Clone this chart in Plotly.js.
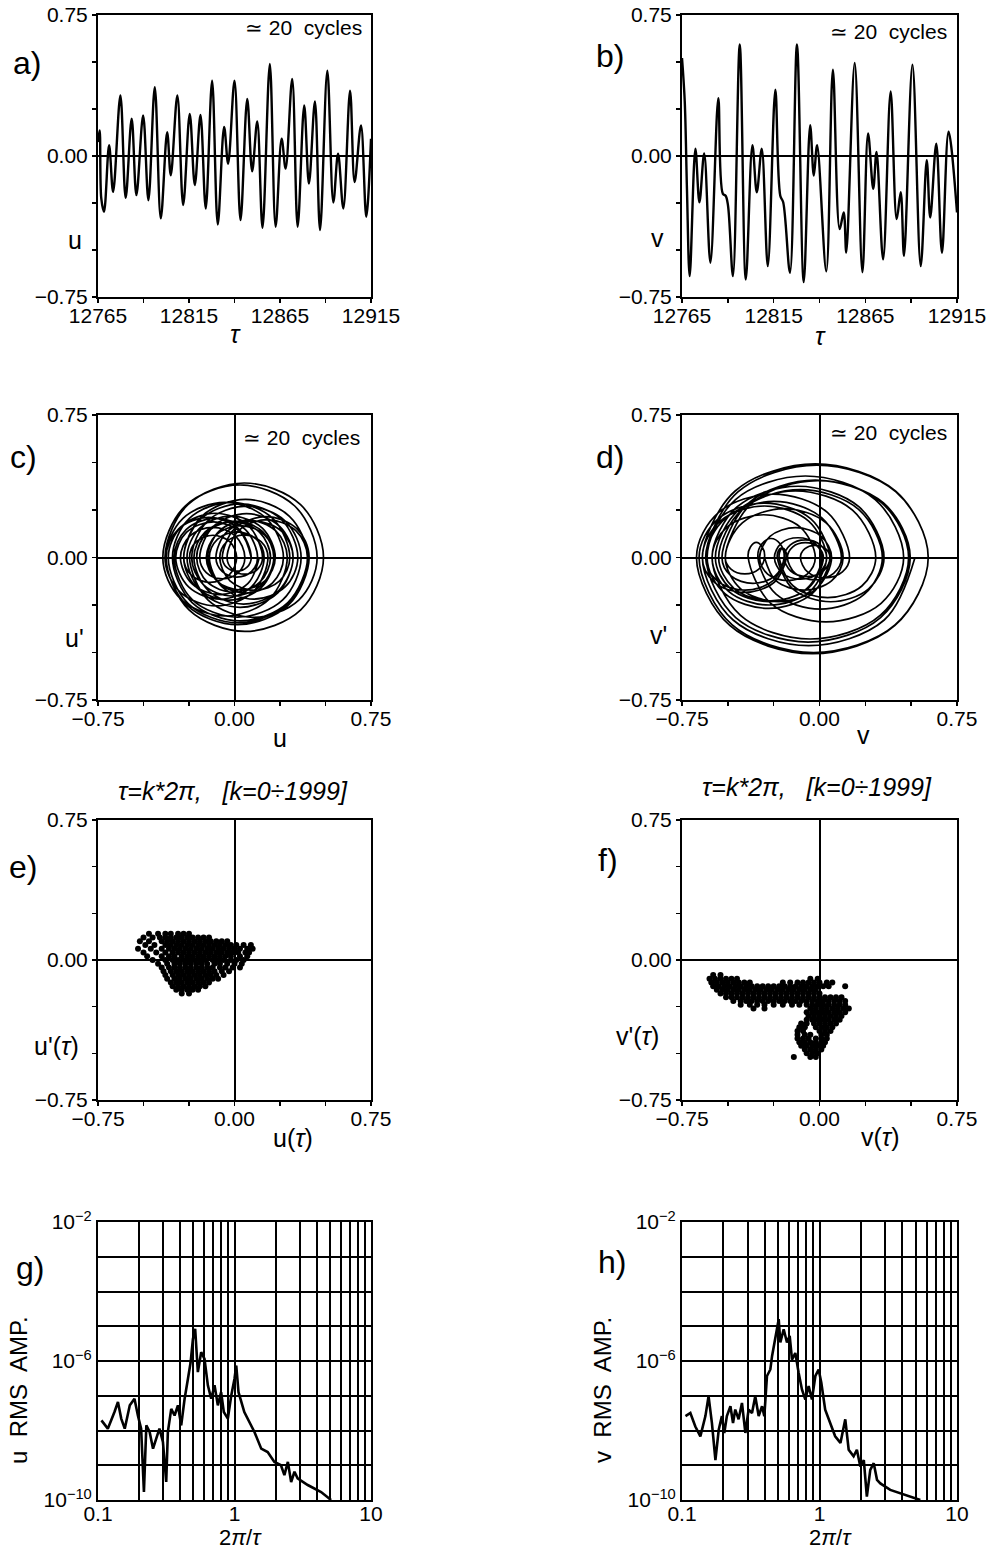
<!DOCTYPE html>
<html>
<head>
<meta charset="utf-8">
<script src="https://cdn.plot.ly/plotly-3.0.1.min.js"></script>
<style>html,body{margin:0;padding:0;background:#fff;}#chart{width:993px;height:1550px;}</style>
</head>
<body>
<div id="chart"></div>
<script>
// ---------- DATA ----------
// a) u(τ) time series: successive extremes
const tauA = [12765.0, 12765.9, 12766.8, 12768.3, 12771.1, 12773.3, 12777.3, 12780.2, 12783.5, 12786.1, 12789.8, 12792.7, 12796.2, 12799.5, 12803.0, 12805.0, 12808.6, 12811.8, 12815.4, 12818.2, 12821.3, 12824.2, 12827.7, 12830.8, 12834.3, 12836.5, 12840.0, 12843.3, 12847.0, 12849.7, 12852.5, 12855.4, 12859.4, 12862.6, 12865.9, 12868.1, 12871.7, 12874.7, 12878.3, 12880.9, 12884.2, 12887.0, 12891.0, 12894.3, 12896.9, 12899.8, 12903.5, 12906.0, 12909.5, 12912.4, 12915.0];
const uA = [0.074, 0.136, -0.226, -0.297, 0.057, -0.191, 0.322, -0.223, 0.198, -0.208, 0.216, -0.235, 0.366, -0.332, 0.127, -0.102, 0.322, -0.261, 0.224, -0.155, 0.219, -0.279, 0.401, -0.364, 0.154, -0.041, 0.401, -0.341, 0.304, -0.081, 0.184, -0.382, 0.489, -0.376, 0.092, -0.067, 0.410, -0.376, 0.269, -0.147, 0.290, -0.394, 0.454, -0.247, 0.012, -0.279, 0.348, -0.138, 0.163, -0.323, 0.092];

// b) v(τ) time series
const tauB = [12765.0, 12766.5, 12767.7, 12769.2, 12772.3, 12774.5, 12777.1, 12780.5, 12784.8, 12787.3, 12788.8, 12790.1, 12792.8, 12796.5, 12799.8, 12803.4, 12805.8, 12808.5, 12811.8, 12815.9, 12818.6, 12820.2, 12823.9, 12827.7, 12831.4, 12834.9, 12836.9, 12838.7, 12843.7, 12847.3, 12851.0, 12853.2, 12854.6, 12859.2, 12863.4, 12866.5, 12869.3, 12871.1, 12874.7, 12878.8, 12882.1, 12884.3, 12886.1, 12890.7, 12895.2, 12898.5, 12900.4, 12903.7, 12906.8, 12910.4, 12915.0];
const vB = [0.521, 0.289, -0.175, -0.639, 0.039, -0.246, 0.013, -0.568, 0.307, -0.202, -0.211, -0.264, -0.639, 0.593, -0.657, 0.057, -0.193, 0.039, -0.586, 0.352, -0.211, -0.246, -0.621, 0.593, -0.671, 0.164, -0.104, 0.057, -0.613, 0.459, -0.389, -0.300, -0.514, 0.495, -0.618, 0.120, -0.175, 0.021, -0.550, 0.343, -0.336, -0.193, -0.532, 0.486, -0.586, -0.023, -0.327, 0.066, -0.514, 0.129, -0.300];

// c) phase portrait (u, u') – points read around each loop
const uC = [
  0.136, 0.073, -0.08, -0.234, -0.297, -0.246, -0.12, 0.006, 0.057, 0.021, -0.067, -0.155,
  -0.191, -0.116, 0.066, 0.248, 0.322, 0.243, 0.05, -0.144, -0.223, -0.162, -0.013, 0.137,
  0.198, 0.139, -0.005, -0.149, -0.208, -0.147, 0.004, 0.155, 0.216, 0.150, -0.01, -0.170,
  -0.235, -0.148, 0.066, 0.279, 0.366, 0.265, 0.017, -0.231, -0.332, -0.266, -0.103, 0.060,
  0.127, 0.094, 0.013, -0.068, -0.102, -0.041, 0.11, 0.261, 0.322, 0.238, 0.031, -0.176,
  -0.261, -0.191, -0.019, 0.153, 0.224, 0.169, 0.035, -0.100, -0.155, -0.101, 0.032, 0.165,
  0.219, 0.147, -0.03, -0.207, -0.279, -0.180, 0.061, 0.302, 0.401, 0.290, 0.019, -0.253,
  -0.364, -0.289, -0.105, 0.079, 0.154, 0.126, 0.057, -0.012, -0.041, 0.023, 0.18, 0.337,
  0.401, 0.293, 0.03, -0.233, -0.341, -0.248, -0.019, 0.210, 0.304, 0.248, 0.112, -0.025,
  -0.081, -0.042, 0.052, 0.146, 0.184, 0.102, -0.099, -0.300, -0.382, -0.256, 0.054, 0.363,
  0.489, 0.364, 0.057, -0.250, -0.376, -0.308, -0.142, 0.024, 0.092, 0.069, 0.013, -0.044,
  -0.067, 0.002, 0.172, 0.341, 0.41, 0.296, 0.017, -0.262, -0.376, -0.283, -0.054, 0.175,
  0.269, 0.209, 0.061, -0.087, -0.147, -0.083, 0.072, 0.227, 0.29, 0.191, -0.052, -0.295,
  -0.394, -0.271, 0.03, 0.331, 0.454, 0.353, 0.104, -0.145, -0.247, -0.210, -0.118, -0.026,
  0.012, -0.030, -0.134, -0.237, -0.279, -0.188, 0.035, 0.257, 0.348, 0.278, 0.105, -0.068,
  -0.138, -0.094, 0.013, 0.120, 0.163, 0.093, -0.08, -0.252, -0.323, -0.263, -0.115, 0.032,
  0.092];
const duC = [
  0, -0.138, -0.195, -0.138, 0, 0.113, 0.159, 0.113, 0, -0.080, -0.112, -0.080,
  0, 0.164, 0.231, 0.164, 0, -0.174, -0.245, -0.174, 0, 0.134, 0.189, 0.134,
  0, -0.130, -0.183, -0.130, 0, 0.136, 0.191, 0.136, 0, -0.144, -0.203, -0.144,
  0, 0.192, 0.270, 0.192, 0, -0.223, -0.314, -0.223, 0, 0.147, 0.207, 0.147,
  0, -0.073, -0.103, -0.073, 0, 0.136, 0.191, 0.136, 0, -0.186, -0.262, -0.186,
  0, 0.155, 0.218, 0.155, 0, -0.121, -0.171, -0.121, 0, 0.119, 0.168, 0.119,
  0, -0.159, -0.224, -0.159, 0, 0.217, 0.306, 0.217, 0, -0.244, -0.344, -0.244,
  0, 0.165, 0.233, 0.165, 0, -0.062, -0.088, -0.062, 0, 0.141, 0.199, 0.141,
  0, -0.237, -0.334, -0.237, 0, 0.206, 0.29, 0.206, 0, -0.123, -0.173, -0.123,
  0, 0.084, 0.119, 0.084, 0, -0.181, -0.255, -0.181, 0, 0.278, 0.392, 0.278,
  0, -0.276, -0.389, -0.276, 0, 0.150, 0.211, 0.150, 0, -0.051, -0.072, -0.051,
  0, 0.153, 0.215, 0.153, 0, -0.251, -0.354, -0.251, 0, 0.206, 0.29, 0.206,
  0, -0.133, -0.187, -0.133, 0, 0.140, 0.197, 0.140, 0, -0.219, -0.308, -0.219,
  0, 0.271, 0.382, 0.271, 0, -0.224, -0.315, -0.224, 0, 0.083, 0.117, 0.083,
  0, -0.093, -0.131, -0.093, 0, 0.200, 0.282, 0.200, 0, -0.155, -0.219, -0.155,
  0, 0.096, 0.135, 0.096, 0, -0.155, -0.219, -0.155, 0, 0.133, 0.187, 0.133,
  0];

// d) phase portrait (v, v') – points read around each loop
const vD = [
  0.521, 0.353, -0.059, -0.471, -0.639, -0.541, -0.30, -0.059, 0.039, -0.003, -0.104, -0.205,
  -0.246, -0.209, -0.117, -0.025, 0.013, -0.071, -0.278, -0.484, -0.568, -0.441, -0.131, 0.180,
  0.307, 0.231, 0.044, -0.143, -0.22, -0.214, -0.20, -0.186, -0.18, -0.247, -0.41, -0.573,
  -0.639, -0.460, -0.023, 0.414, 0.593, 0.412, -0.032, -0.476, -0.657, -0.553, -0.30, -0.047,
  0.057, 0.021, -0.068, -0.157, -0.193, -0.159, -0.077, 0.005, 0.039, -0.052, -0.274, -0.496,
  -0.586, -0.450, -0.117, 0.216, 0.352, 0.268, 0.061, -0.146, -0.23, -0.224, -0.21, -0.196,
  -0.19, -0.253, -0.406, -0.559, -0.621, -0.445, -0.014, 0.417, 0.593, 0.410, -0.039, -0.488,
  -0.671, -0.550, -0.254, 0.043, 0.164, 0.125, 0.03, -0.065, -0.104, -0.081, -0.024, 0.034,
  0.057, -0.040, -0.278, -0.516, -0.613, -0.458, -0.077, 0.304, 0.459, 0.336, 0.035, -0.266,
  -0.389, -0.376, -0.345, -0.313, -0.30, -0.331, -0.407, -0.483, -0.514, -0.368, -0.01, 0.349,
  0.495, 0.333, -0.062, -0.457, -0.618, -0.511, -0.249, 0.013, 0.120, 0.077, -0.028, -0.132,
  -0.175, -0.147, -0.077, -0.007, 0.021, -0.062, -0.265, -0.467, -0.550, -0.421, -0.104, 0.213,
  0.343, 0.245, 0.004, -0.237, -0.336, -0.315, -0.265, -0.214, -0.193, -0.242, -0.363, -0.483,
  -0.532, -0.384, -0.023, 0.338, 0.486, 0.331, -0.05, -0.431, -0.586, -0.505, -0.305, -0.105,
  -0.023, -0.067, -0.175, -0.283, -0.327, -0.270, -0.131, 0.009, 0.066, -0.018, -0.224, -0.430,
  -0.514, -0.421, -0.193, 0.036, 0.129, 0.067, -0.086, -0.238,
  -0.300];
const dvD = [
  0, -0.329, -0.464, -0.329, 0, 0.192, 0.271, 0.192, 0, -0.081, -0.114, -0.081,
  0, 0.074, 0.104, 0.074, 0, -0.165, -0.232, -0.165, 0, 0.249, 0.35, 0.249,
  0, -0.150, -0.211, -0.150, 0, 0.036, 0.05, 0.036, 0, -0.131, -0.184, -0.131,
  0, 0.350, 0.493, 0.350, 0, -0.355, -0.5, -0.355, 0, 0.203, 0.286, 0.203,
  0, -0.071, -0.1, -0.071, 0, 0.066, 0.093, 0.066, 0, -0.178, -0.25, -0.178,
  0, 0.266, 0.375, 0.266, 0, -0.165, -0.233, -0.165, 0, 0.036, 0.05, 0.036,
  0, -0.122, -0.172, -0.122, 0, 0.345, 0.486, 0.345, 0, -0.359, -0.506, -0.359,
  0, 0.237, 0.334, 0.237, 0, -0.076, -0.107, -0.076, 0, 0.045, 0.064, 0.045,
  0, -0.190, -0.268, -0.190, 0, 0.305, 0.429, 0.305, 0, -0.241, -0.339, -0.241,
  0, 0.057, 0.08, 0.057, 0, -0.061, -0.086, -0.061, 0, 0.287, 0.404, 0.287,
  0, -0.316, -0.445, -0.316, 0, 0.209, 0.295, 0.209, 0, -0.084, -0.118, -0.084,
  0, 0.055, 0.078, 0.055, 0, -0.162, -0.228, -0.162, 0, 0.253, 0.357, 0.253,
  0, -0.193, -0.272, -0.193, 0, 0.071, 0.1, 0.071, 0, -0.097, -0.136, -0.097,
  0, 0.289, 0.407, 0.289, 0, -0.305, -0.429, -0.305, 0, 0.160, 0.225, 0.160,
  0, -0.087, -0.122, -0.087, 0, 0.111, 0.157, 0.111, 0, -0.165, -0.232, -0.165,
  0, 0.182, 0.257, 0.182, 0, -0.122, -0.172, -0.122,
  0];

// e) Poincaré section (u(τ), u'(τ)) – rows of points
const eLevels = [0.14, 0.12, 0.10, 0.08, 0.06, 0.04, 0.02, 0.00, -0.02, -0.04, -0.06, -0.08, -0.10, -0.12, -0.14, -0.16, -0.18];
const eRows = [
  [-0.47, -0.42, -0.38, -0.35, -0.31, -0.28, -0.25],
  [-0.50, -0.45, -0.41, -0.38, -0.35, -0.32, -0.29, -0.26, -0.23, -0.20, -0.17, -0.14],
  [-0.52, -0.47, -0.40, -0.37, -0.34, -0.31, -0.28, -0.25, -0.22, -0.19, -0.16, -0.13, -0.10, -0.07, -0.04],
  [-0.49, -0.44, -0.38, -0.35, -0.32, -0.29, -0.26, -0.23, -0.20, -0.17, -0.14, -0.11, -0.08, -0.05, -0.02, 0.01, 0.05, 0.09],
  [-0.53, -0.46, -0.40, -0.36, -0.33, -0.30, -0.27, -0.24, -0.21, -0.18, -0.15, -0.12, -0.09, -0.06, -0.03, 0.00, 0.03, 0.07, 0.10],
  [-0.50, -0.43, -0.38, -0.34, -0.31, -0.28, -0.25, -0.22, -0.19, -0.16, -0.13, -0.10, -0.07, -0.04, -0.01, 0.02, 0.06, 0.08],
  [-0.48, -0.40, -0.36, -0.33, -0.29, -0.26, -0.23, -0.20, -0.17, -0.14, -0.11, -0.08, -0.05, -0.02, 0.03, 0.07],
  [-0.45, -0.38, -0.34, -0.31, -0.28, -0.25, -0.22, -0.19, -0.16, -0.12, -0.09, -0.06, -0.02, 0.01, 0.05],
  [-0.42, -0.37, -0.33, -0.30, -0.27, -0.24, -0.21, -0.18, -0.15, -0.11, -0.08, -0.04, 0.00, 0.04],
  [-0.40, -0.36, -0.33, -0.30, -0.27, -0.24, -0.21, -0.18, -0.15, -0.12, -0.08, -0.05, -0.01, 0.03],
  [-0.39, -0.35, -0.32, -0.29, -0.26, -0.23, -0.20, -0.17, -0.14, -0.11, -0.07, -0.03],
  [-0.38, -0.34, -0.31, -0.28, -0.25, -0.22, -0.19, -0.16, -0.13, -0.10, -0.06],
  [-0.37, -0.33, -0.30, -0.27, -0.24, -0.21, -0.18, -0.15, -0.12, -0.09],
  [-0.35, -0.32, -0.29, -0.26, -0.23, -0.20, -0.17, -0.14],
  [-0.34, -0.31, -0.28, -0.25, -0.22, -0.19, -0.16],
  [-0.32, -0.29, -0.26, -0.23, -0.20],
  [-0.29, -0.25]
];

// f) Poincaré section (v(τ), v'(τ)) – rows of points
const fLevels = [-0.08, -0.10, -0.12, -0.14, -0.16, -0.18, -0.20, -0.22, -0.24, -0.26, -0.28, -0.30, -0.32, -0.34, -0.36, -0.38, -0.40, -0.42, -0.44, -0.46, -0.48, -0.50, -0.52];
const fRows = [
  [-0.58, -0.54],
  [-0.60, -0.57, -0.54, -0.51, -0.48, -0.45, -0.05, -0.01],
  [-0.59, -0.56, -0.53, -0.50, -0.47, -0.44, -0.41, -0.38, -0.20, -0.16, -0.12, -0.09, -0.06, -0.03, 0.00, 0.04, 0.07],
  [-0.58, -0.55, -0.52, -0.49, -0.46, -0.43, -0.40, -0.37, -0.34, -0.31, -0.28, -0.25, -0.22, -0.19, -0.16, -0.13, -0.10, -0.07, -0.04, -0.01, 0.02, 0.05, 0.14],
  [-0.56, -0.53, -0.50, -0.47, -0.44, -0.41, -0.38, -0.35, -0.32, -0.29, -0.26, -0.23, -0.20, -0.17, -0.14, -0.11, -0.08, -0.05, -0.02],
  [-0.54, -0.51, -0.48, -0.45, -0.42, -0.39, -0.36, -0.33, -0.30, -0.27, -0.24, -0.21, -0.18, -0.15, -0.12, -0.09, -0.06, -0.03, 0.00],
  [-0.51, -0.48, -0.45, -0.42, -0.39, -0.36, -0.33, -0.30, -0.27, -0.24, -0.21, -0.18, -0.15, -0.12, -0.09, -0.06, -0.03, 0.00, 0.03, 0.06, 0.09, 0.12],
  [-0.47, -0.43, -0.40, -0.37, -0.34, -0.31, -0.28, -0.25, -0.22, -0.19, -0.16, -0.13, -0.10, -0.07, -0.04, -0.01, 0.02, 0.05, 0.08, 0.11, 0.14],
  [-0.43, -0.38, -0.34, -0.30, -0.25, -0.20, -0.15, -0.11, -0.07, -0.04, -0.01, 0.02, 0.05, 0.08, 0.11, 0.14],
  [-0.36, -0.30, -0.05, -0.02, 0.01, 0.04, 0.07, 0.10, 0.13, 0.16],
  [-0.07, -0.04, -0.01, 0.02, 0.05, 0.08, 0.11, 0.14],
  [-0.06, -0.03, 0.00, 0.03, 0.06, 0.09, 0.12],
  [-0.07, -0.04, -0.01, 0.02, 0.05, 0.08, 0.11],
  [-0.10, -0.07, -0.03, 0.00, 0.03, 0.06, 0.09],
  [-0.11, -0.08, -0.02, 0.01, 0.04, 0.07],
  [-0.12, -0.09, 0.00, 0.03, 0.06],
  [-0.12, -0.08, -0.05, 0.01, 0.04],
  [-0.12, -0.09, -0.06, -0.02, 0.01, 0.04],
  [-0.11, -0.08, -0.05, -0.02, 0.01, 0.03],
  [-0.10, -0.07, -0.04, -0.01, 0.02],
  [-0.08, -0.05, -0.02, 0.01],
  [-0.07, -0.04, -0.01],
  [-0.14, -0.05, -0.02]
];

// g) u RMS amplitude spectrum
const gF = [0.106, 0.118, 0.132, 0.140, 0.148, 0.157, 0.171, 0.185, 0.196, 0.207, 0.217, 0.226, 0.239, 0.253, 0.267, 0.282, 0.299, 0.316, 0.325, 0.344, 0.364, 0.385, 0.407, 0.431, 0.456, 0.477, 0.496, 0.515, 0.539, 0.570, 0.603, 0.638, 0.675, 0.714, 0.755, 0.798, 0.835, 0.894, 0.946, 1.0, 1.03, 1.07, 1.18, 1.40, 1.57, 1.75, 1.96, 2.19, 2.32, 2.46, 2.60, 2.75, 2.90, 3.44, 4.31, 5.10];
const gA = [1.96e-8, 1.13e-8, 3.4e-8, 6.6e-8, 2.2e-8, 1.13e-8, 5.3e-8, 8.2e-8, 2.7e-8, 1.13e-8, 1.7e-10, 1.4e-8, 9.1e-9, 3.0e-9, 5.8e-9, 1.13e-8, 4.7e-9, 3.3e-10, 9.1e-9, 4.2e-8, 2.7e-8, 5.3e-8, 1.4e-8, 8.2e-8, 3.1e-7, 9.2e-7, 4.3e-6, 8.4e-6, 4.8e-7, 1.8e-6, 1.15e-6, 2.0e-7, 8.2e-8, 2.0e-7, 5.3e-8, 1.27e-7, 3.4e-8, 2.2e-8, 1.0e-7, 3.1e-7, 7.4e-7, 1.27e-7, 3.4e-8, 9.1e-9, 3.0e-9, 2.4e-9, 1.25e-9, 1.0e-9, 5.2e-10, 1.25e-9, 3.3e-10, 6.5e-10, 4.2e-10, 2.7e-10, 1.7e-10, 1.0e-10];

// h) v RMS amplitude spectrum
const hF = [0.106, 0.115, 0.125, 0.136, 0.148, 0.156, 0.165, 0.175, 0.185, 0.195, 0.203, 0.212, 0.225, 0.235, 0.244, 0.258, 0.273, 0.289, 0.305, 0.323, 0.341, 0.361, 0.382, 0.397, 0.415, 0.439, 0.452, 0.478, 0.505, 0.519, 0.549, 0.580, 0.607, 0.631, 0.667, 0.705, 0.746, 0.789, 0.834, 0.881, 0.933, 0.986, 1.03, 1.10, 1.20, 1.30, 1.42, 1.54, 1.63, 1.77, 1.87, 1.98, 2.10, 2.21, 2.34, 2.48, 2.62, 2.77, 3.27, 3.87, 4.58, 5.41];
const hA = [2.6e-8, 3.2e-8, 1.3e-8, 6.8e-9, 2.6e-8, 9.7e-8, 1.65e-8, 1.4e-9, 1.06e-8, 2.6e-8, 8.5e-9, 2.6e-8, 5.0e-8, 1.65e-8, 4.0e-8, 2.1e-8, 6.2e-8, 8.5e-9, 4.0e-8, 3.2e-8, 9.7e-8, 2.6e-8, 5.0e-8, 2.6e-8, 3.7e-7, 5.7e-7, 1.4e-6, 5.3e-6, 1.6e-5, 3.4e-6, 8.2e-6, 3.4e-6, 5.3e-6, 1.1e-6, 1.7e-6, 4.6e-7, 1.5e-7, 7.8e-8, 1.9e-7, 7.8e-8, 3.7e-7, 5.7e-7, 2.4e-7, 4.0e-8, 1.65e-8, 6.8e-9, 4.4e-9, 2.1e-8, 2.8e-9, 1.8e-9, 2.8e-9, 9.2e-10, 1.4e-9, 1.25e-10, 7.4e-10, 1.15e-9, 3.8e-10, 3.0e-10, 1.95e-10, 1.56e-10, 1.25e-10, 1.0e-10];

// tick labels
const symTicks = [-0.75, -0.5, -0.25, 0, 0.25, 0.5, 0.75];
const symText = ['−0.75', '', '', '0.00', '', '', '0.75'];
const tauTicks = [12765, 12790, 12815, 12840, 12865, 12890, 12915];
const tauText = ['12765', '', '12815', '', '12865', '', '12915'];
const freqTicks = [0.1, 0.2, 0.3, 0.4, 0.5, 0.6, 0.7, 0.8, 0.9, 1, 2, 3, 4, 5, 6, 7, 8, 9, 10];
const freqText = ['0.1', '', '', '', '', '', '', '', '', '1', '', '', '', '', '', '', '', '', '10'];
const ampTicks = [1e-10, 1e-9, 1e-8, 1e-7, 1e-6, 1e-5, 1e-4, 1e-3, 1e-2];
const ampText = ['10<sup>−10</sup>', '', '', '', '10<sup>−6</sup>', '', '', '', '10<sup>−2</sup>'];

// ---------- LAYOUT HELPERS ----------
const W = 993, H = 1550;
const FONT = 'Liberation Sans, Arial, Helvetica, sans-serif';
const cols = [[98, 371], [682, 957]];
const rows = [[15, 297], [415, 700], [820, 1100], [1222, 1500]];
function xd(c) { return [cols[c][0] / W, cols[c][1] / W]; }
function yd(r) { return [1 - rows[r][1] / H, 1 - rows[r][0] / H]; }

function linAx(dom, anchor, range, tv, tt, zero, isX) {
  const a = {
    domain: dom, anchor: anchor, range: range, tickmode: 'array', tickvals: tv, ticktext: tt,
    showline: true, mirror: true, linecolor: '#000', linewidth: 2,
    ticks: 'outside', ticklen: 4, tickwidth: 1.5, tickcolor: '#000',
    showgrid: false, zeroline: zero, zerolinecolor: '#000', zerolinewidth: 2,
    tickfont: { family: FONT, size: 21, color: '#000' }, fixedrange: true
  };
  if (isX) a.ticklabelstandoff = -5;
  return a;
}
function logAx(dom, anchor, range, tv, tt, isX) {
  const a = {
    type: 'log', domain: dom, anchor: anchor, range: range, tickmode: 'array', tickvals: tv, ticktext: tt,
    showline: true, mirror: true, linecolor: '#000', linewidth: 2, ticks: '',
    showgrid: true, gridcolor: '#000', gridwidth: 2, zeroline: false,
    tickfont: { family: FONT, size: 21, color: '#000' }, fixedrange: true
  };
  if (isX) a.ticklabelstandoff = -6;
  return a;
}
function ann(text, px, py, size, extra) {
  return Object.assign({
    text: text, xref: 'paper', yref: 'paper', x: px / W, y: 1 - py / H,
    xanchor: 'center', yanchor: 'middle', showarrow: false,
    font: { family: FONT, size: size, color: '#000' }
  }, extra || {});
}
function rowsToXY(levels, rws) {
  const x = [], y = [];
  rws.forEach((r, i) => r.forEach(v => { x.push(v); y.push(levels[i]); }));
  return { x: x, y: y };
}

// ---------- TRACES ----------
const lineStyle = { color: '#000', width: 2.4, shape: 'spline', smoothing: 1 };
const loopStyle = { color: '#000', width: 1.7, shape: 'spline', smoothing: 1 };
const eXY = rowsToXY(eLevels, eRows);
const fXY = rowsToXY(fLevels, fRows);
const traces = [
  { x: tauA, y: uA, xaxis: 'x', yaxis: 'y', mode: 'lines', line: lineStyle },
  { x: tauB, y: vB, xaxis: 'x2', yaxis: 'y2', mode: 'lines', line: lineStyle },
  { x: uC, y: duC, xaxis: 'x3', yaxis: 'y3', mode: 'lines', line: loopStyle },
  { x: vD, y: dvD, xaxis: 'x4', yaxis: 'y4', mode: 'lines', line: loopStyle },
  { x: eXY.x, y: eXY.y, xaxis: 'x5', yaxis: 'y5', mode: 'markers', marker: { color: '#000', size: 6 } },
  { x: fXY.x, y: fXY.y, xaxis: 'x6', yaxis: 'y6', mode: 'markers', marker: { color: '#000', size: 6 } },
  { x: gF, y: gA, xaxis: 'x7', yaxis: 'y7', mode: 'lines', line: { color: '#000', width: 2.6 } },
  { x: hF, y: hA, xaxis: 'x8', yaxis: 'y8', mode: 'lines', line: { color: '#000', width: 2.6 } }
];

const R = [-0.75, 0.75];
const layout = {
  width: W, height: H, margin: { l: 0, r: 0, t: 0, b: 0 },
  paper_bgcolor: '#fff', plot_bgcolor: '#fff', showlegend: false,
  xaxis: linAx(xd(0), 'y', [12765, 12915], tauTicks, tauText, false, true),
  yaxis: linAx(yd(0), 'x', R, symTicks, symText, true),
  xaxis2: linAx(xd(1), 'y2', [12765, 12915], tauTicks, tauText, false, true),
  yaxis2: linAx(yd(0), 'x2', R, symTicks, symText, true),
  xaxis3: linAx(xd(0), 'y3', R, symTicks, symText, true, true),
  yaxis3: linAx(yd(1), 'x3', R, symTicks, symText, true),
  xaxis4: linAx(xd(1), 'y4', R, symTicks, symText, true, true),
  yaxis4: linAx(yd(1), 'x4', R, symTicks, symText, true),
  xaxis5: linAx(xd(0), 'y5', R, symTicks, symText, true, true),
  yaxis5: linAx(yd(2), 'x5', R, symTicks, symText, true),
  xaxis6: linAx(xd(1), 'y6', R, symTicks, symText, true, true),
  yaxis6: linAx(yd(2), 'x6', R, symTicks, symText, true),
  xaxis7: logAx(xd(0), 'y7', [-1, 1], freqTicks, freqText, true),
  yaxis7: logAx(yd(3), 'x7', [-10, -2], ampTicks, ampText),
  xaxis8: logAx(xd(1), 'y8', [-1, 1], freqTicks, freqText, true),
  yaxis8: logAx(yd(3), 'x8', [-10, -2], ampTicks, ampText),
  annotations: [
    // panel letters
    ann('a)', 27, 63, 32), ann('b)', 610, 56, 32),
    ann('c)', 23, 457, 32), ann('d)', 610, 457, 32),
    ann('e)', 23, 867, 32), ann('f)', 608, 860, 32),
    ann('g)', 30, 1268, 32), ann('h)', 612, 1262, 32),
    // cycles notes
    ann('≃ 20  cycles', 303, 27, 21), ann('≃ 20  cycles', 888, 32, 21),
    ann('≃ 20  cycles', 301, 437, 21), ann('≃ 20  cycles', 888, 433, 21),
    // y titles
    ann('u', 75, 240, 25), ann('v', 657, 238, 25),
    ann("u'", 74, 638, 25), ann("v'", 658, 635, 25),
    ann("u'(<i>τ</i>)", 56, 1046, 25), ann("v'(<i>τ</i>)", 637, 1036, 25),
    ann('u  RMS  AMP.', 18, 1390, 24, { textangle: -90 }),
    ann('v  RMS  AMP.', 602, 1390, 24, { textangle: -90 }),
    // x titles
    ann('<i>τ</i>', 235, 334, 25), ann('<i>τ</i>', 820, 336, 25),
    ann('u', 280, 738, 25), ann('v', 863, 735, 25),
    ann('u(<i>τ</i>)', 293, 1138, 25), ann('v(<i>τ</i>)', 880, 1137, 25),
    ann('2<i>π</i>/<i>τ</i>', 240, 1537, 22), ann('2<i>π</i>/<i>τ</i>', 830, 1537, 22),
    // Poincaré titles
    ann('<i>τ=k*2π,   [k=0÷1999]</i>', 233, 791, 25),
    ann('<i>τ=k*2π,   [k=0÷1999]</i>', 817, 787, 25)
  ]
};

Plotly.newPlot('chart', traces, layout, { staticPlot: true, displayModeBar: false });
</script>
</body>
</html>
